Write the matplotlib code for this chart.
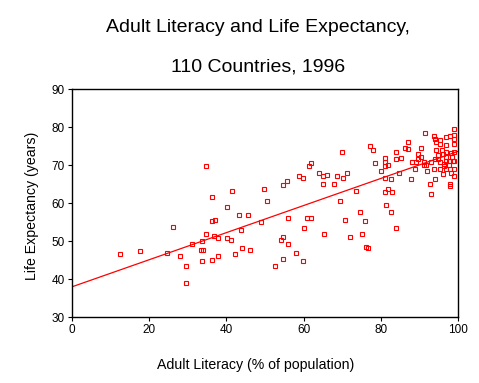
import matplotlib
matplotlib.use("Agg")
import matplotlib.pyplot as plt
import numpy as np

plt.rcParams['font.family'] = ['Liberation Sans', 'DejaVu Sans']

# Adult literacy (% of population)
literacy = [
    12.5, 17.7, 24.7, 26.2, 28.1, 29.5, 29.5, 31.1,
    33.4, 34.0, 33.6, 33.6, 34.7, 34.7, 36.2, 36.2, 37.1, 36.7, 37.8, 36.2, 37.8,
    40.1, 41.4, 40.1, 41.1, 43.4, 45.6, 43.7, 42.2, 44.0, 46.0, 49.0, 49.7, 50.5,
    54.6, 55.6, 56.0, 54.6, 54.1, 56.0, 54.6, 52.7, 57.9, 58.7, 59.8, 61.4, 62.0,
    64.0, 64.9, 66.0, 64.9, 60.8, 61.9, 60.0, 65.3, 59.8,
    67.9, 68.6, 70.1, 71.3, 69.8, 69.4, 73.5, 70.7, 71.9, 74.7, 75.8, 75.0, 76.1,
    76.6, 77.2, 77.9, 78.4, 79.9, 81.0, 81.8, 81.0, 82.5, 81.0, 81.8, 82.8, 81.3,
    82.5, 84.0, 81.0, 81.0, 84.0, 84.0, 85.1, 84.7,
    98.9, 91.4, 93.6, 94.1, 95.2, 96.9, 97.8, 98.8, 86.9, 94.2, 95.2, 96.8, 98.8,
    98.8, 86.1, 86.9, 90.4, 94.2, 95.8, 96.9, 98.1, 98.9, 89.6, 90.3, 89.6, 94.7,
    96.0, 96.9, 98.3, 98.7, 98.9, 88.1, 89.0, 91.1, 91.1, 91.6, 92.9, 93.9, 94.8,
    95.2, 96.2, 96.7, 97.7, 96.2, 97.7, 88.8, 91.8, 93.6, 95.2, 96.9, 97.9, 98.9,
    96.1, 98.0, 98.9, 87.7, 94.1, 92.6, 97.8, 97.8, 92.9,
]

# Life expectancy (years)
life_exp = [
    46.7, 47.5, 47.0, 53.8, 46.2, 43.6, 39.1, 49.4,
    47.8, 47.8, 50.2, 44.7, 69.9, 52.0, 61.7, 55.4, 55.7, 51.5, 51.0, 45.2, 46.2,
    59.1, 63.3, 51.0, 50.4, 57.0, 57.0, 53.1, 46.7, 48.2, 47.8, 55.2, 63.8, 60.7,
    64.9, 65.9, 56.2, 51.2, 50.4, 49.4, 45.4, 43.6, 47.0, 67.3, 66.7, 69.9, 70.7,
    67.9, 67.3, 67.5, 65.2, 56.2, 56.2, 53.6, 52.0, 44.7,
    65.2, 67.3, 66.7, 67.9, 73.6, 60.7, 63.3, 55.7, 51.2, 57.8, 55.4, 52.0, 48.6,
    48.2, 75.2, 73.9, 70.7, 68.6, 69.9, 70.2, 66.7, 66.4, 63.1, 63.8, 63.1, 59.6,
    57.8, 53.6, 72.0, 70.9, 73.5, 71.7, 72.0, 67.9,
    79.6, 78.5, 77.8, 76.9, 76.7, 77.4, 77.8, 77.9, 76.1, 76.1, 75.5, 75.3, 75.5,
    76.9, 74.6, 74.4, 74.6, 73.9, 73.9, 73.5, 73.2, 73.5, 72.9, 72.1, 71.7, 72.6,
    73.1, 72.1, 72.1, 71.2, 71.2, 70.9, 70.9, 70.9, 70.2, 70.2, 70.9, 71.7, 71.6,
    70.9, 70.4, 71.1, 71.1, 69.7, 70.2, 69.1, 68.6, 69.1, 69.1, 69.1, 69.1, 69.1,
    67.6, 68.0, 67.3, 66.5, 66.5, 65.2, 65.0, 64.6, 62.5,
]

# Fitted regression line
fit_intercept = 38.0
fit_slope = 0.357
fit_x = [0, 100]

x_ticks = [0, 20, 40, 60, 80, 100]
y_ticks = [30, 40, 50, 60, 70, 80, 90]

title_line1 = "Adult Literacy and Life Expectancy,"
title_line2 = "110 Countries, 1996"
x_label = "Adult Literacy (% of population)"
y_label = "Life Expectancy (years)"

fig = plt.figure(figsize=(4.79, 3.83), dpi=100)
ax = fig.add_axes([0.1497, 0.1715, 0.8071, 0.5953])

ax.plot(literacy, life_exp, linestyle='none', marker='s', markersize=3.5,
        markerfacecolor='none', markeredgecolor='#ff0000', markeredgewidth=0.8)
fx = np.array(fit_x, dtype=float)
ax.plot(fx, fit_intercept + fit_slope * fx, color='#ff0000', linewidth=0.9)

ax.set_xlim(0, 100)
ax.set_ylim(30, 90)
ax.set_xticks(x_ticks)
ax.set_yticks(y_ticks)
ax.tick_params(direction='out', length=3, width=0.8, labelsize=8.5, pad=2,
               top=False, right=False)
for s in ax.spines.values():
    s.set_linewidth(1.0)
    s.set_color('black')

fig.text(0.5386, 0.9156, title_line1, ha='center', va='baseline', fontsize=14)
fig.text(0.5386, 0.8129, title_line2, ha='center', va='baseline', fontsize=14)
fig.text(0.534, 0.0366, x_label, ha='center', va='baseline', fontsize=10.2)
fig.text(0.066, 0.462, y_label, ha='center', va='center', rotation=90, fontsize=10.2)

fig.savefig("out.png", dpi=100)
